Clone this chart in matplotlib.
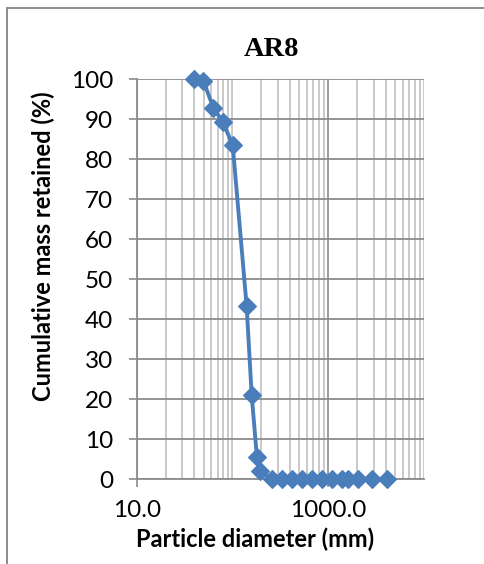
import matplotlib
matplotlib.use("Agg")
import matplotlib.pyplot as plt
from matplotlib.ticker import LogLocator, NullFormatter, FixedLocator, FixedFormatter
from matplotlib.lines import Line2D

# Sieve analysis of sample AR8
diameter_mm = [39.6, 49.6, 63.0, 79.0, 100.5, 140.6, 158.6, 180.0, 195.0,
               256.0, 326.0, 415.0, 527.0, 671.0, 853.0, 1085.0, 1380.0,
               1618.0, 2056.0, 2838.0, 4074.0]
cum_retained = [100.0, 99.7, 92.9, 89.4, 83.6, 43.3, 21.2, 5.5, 2.2,
                0.0, 0.0, 0.0, 0.0, 0.0, 0.0, 0.0, 0.0,
                0.0, 0.0, 0.0, 0.0]

x_major = [10, 1000]
x_major_labels = ["10.0", "1000.0"]
y_ticks = list(range(0, 101, 10))

W, H, DPI = 485, 564, 100
fig = plt.figure(figsize=(W / DPI, H / DPI), dpi=DPI)
fig.patch.set_facecolor("white")

def fx(px):
    return px / W

def fy(py):
    return 1 - py / H

left, right, top, bottom = 136.7, 424.0, 79.3, 479.3
ax = fig.add_axes([fx(left), fy(bottom), fx(right - left), (bottom - top) / H])

sans = "Lato"
blue = "#4A7EBB"
grid_dark = "#8C8C8C"
grid_light = "#C0C0C0"

ax.plot(diameter_mm, cum_retained, color=blue, lw=2.8, marker="D",
        markersize=9.0, markerfacecolor=blue, markeredgecolor=blue,
        markeredgewidth=0.8, zorder=4, clip_on=False)

ax.set_xscale("log")
ax.set_xlim(10, 10000)
ax.set_ylim(0, 100)

ax.xaxis.set_major_locator(FixedLocator(x_major))
ax.xaxis.set_major_formatter(FixedFormatter(x_major_labels))
ax.xaxis.set_minor_locator(LogLocator(base=10, subs=range(1, 10), numticks=50))
ax.xaxis.set_minor_formatter(NullFormatter())
ax.set_yticks(y_ticks)
ax.set_yticklabels([str(v) for v in y_ticks])

ax.grid(True, which="minor", axis="x", color=grid_light, lw=1.2, zorder=1)
ax.grid(True, which="major", axis="x", color=grid_dark, lw=1.2, zorder=2)
ax.grid(True, which="major", axis="y", color=grid_dark, lw=1.3, zorder=2)
ax.set_axisbelow(True)

for s in ("top", "right"):
    ax.spines[s].set_visible(False)
for s in ("left", "bottom"):
    ax.spines[s].set_color(grid_dark)
    ax.spines[s].set_linewidth(1.3)

ax.tick_params(axis="y", which="major", direction="out", length=5.8,
               width=1.2, color=grid_dark, pad=11, labelsize=17.5)
ax.tick_params(axis="x", which="major", direction="out", length=5.8,
               width=1.2, color=grid_dark, pad=9, labelsize=17.5)
ax.tick_params(axis="x", which="minor", length=0)
for lab in ax.get_xticklabels() + ax.get_yticklabels():
    lab.set_fontfamily(sans)

fig.text(fx(271), fy(50), "AR8", family="Liberation Serif", weight="bold",
         fontsize=20.5, ha="center", va="center")
fig.text(fx(255), fy(547), "Particle diameter (mm)", family=sans,
         weight="bold", fontsize=17, ha="center", va="baseline")
fig.text(fx(43), fy(246), "Cumulative mass retained (%)", family=sans,
         weight="bold", fontsize=17, ha="center", va="center", rotation=90)

# outer chart frame
fig.add_artist(Line2D([fx(7), fx(484)], [fy(8), fy(8)], color="#8C8C8C", lw=1.4))
fig.add_artist(Line2D([fx(7), fx(7)], [fy(8), fy(564)], color="#8C8C8C", lw=1.4))

fig.savefig("out.png", dpi=DPI, facecolor="white")
